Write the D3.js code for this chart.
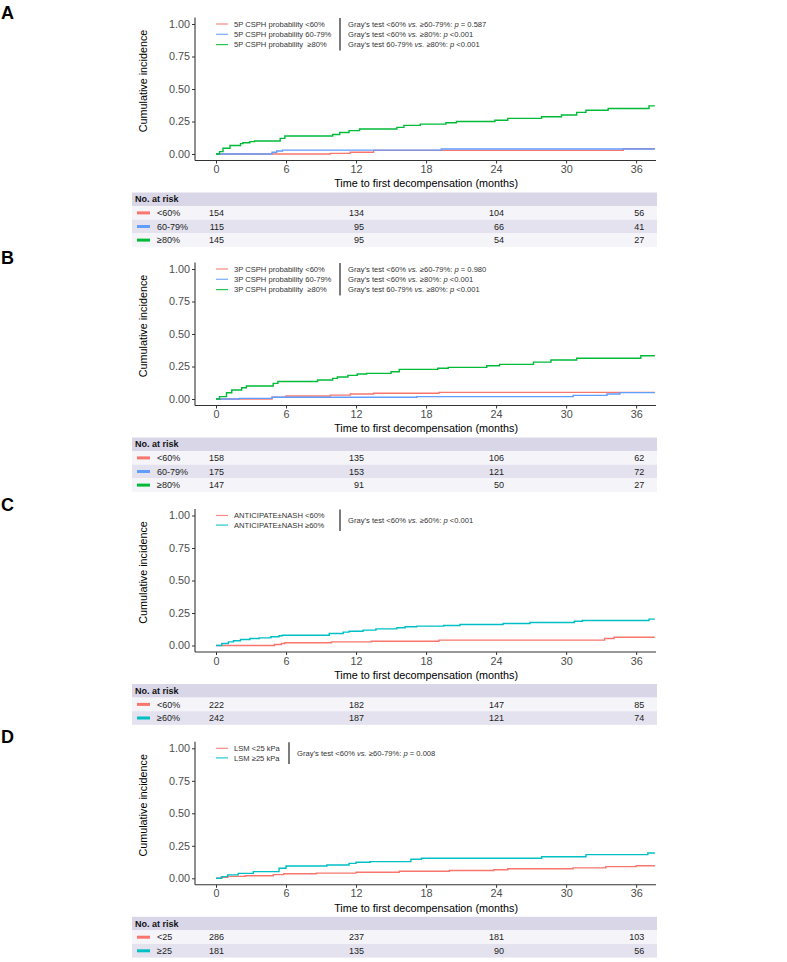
<!DOCTYPE html>
<html>
<head>
<meta charset="utf-8">
<script src="https://cdn.jsdelivr.net/npm/d3@7"></script>
<style>
  body { margin: 0; background: #fff; }
  svg { font-family: "Liberation Sans", Arial, sans-serif; }
  text { white-space: pre; }
</style>
</head>
<body>
<svg id="chart" width="787" height="962"></svg>
<script>
// ---- data: [month, cumulative incidence] step points ----
const A_LT60 = [[0,0],[9.8,0.005],[11.5,0.013],[13.5,0.028],[34.9,0.04],[37.6,0.04]];
const A_6079 = [[0,0],[4.8,0.013],[5.2,0.023],[5.7,0.03],[19.3,0.038],[37.6,0.038]];
const A_GE80 = [[0,0],[0.3,0.018],[0.6,0.044],[1.2,0.065],[2.1,0.08],[2.3,0.087],[2.9,0.095],[3.3,0.10],
  [5.5,0.12],[5.9,0.138],[10.0,0.15],[10.6,0.165],[11.4,0.18],[12.3,0.192],[15.5,0.205],[16.1,0.22],
  [17.5,0.23],[19.7,0.24],[20.6,0.25],[23.9,0.26],[25.0,0.274],[27.9,0.287],[29.6,0.30],[30.9,0.32],
  [31.7,0.336],[33.6,0.35],[37.1,0.37],[37.6,0.37]];

const B_LT60 = [[0,0],[4.8,0.013],[6.0,0.023],[9.8,0.03],[11.5,0.038],[13.5,0.044],[19.1,0.051],[37.6,0.051]];
const B_6079 = [[0,0],[2.0,0.005],[4.8,0.013],[17.2,0.018],[30.6,0.028],[33.5,0.038],[34.6,0.049],[37.6,0.049]];
const B_GE80 = [[0,0],[0.3,0.018],[0.9,0.048],[1.35,0.069],[2.2,0.087],[2.6,0.10],[4.9,0.12],[5.3,0.135],
  [8.7,0.146],[10.0,0.159],[10.4,0.169],[11.3,0.182],[12.1,0.192],[12.9,0.197],[15.0,0.21],[15.7,0.228],
  [19.0,0.236],[19.9,0.243],[23.2,0.256],[24.3,0.266],[27.2,0.284],[28.7,0.30],[30.9,0.313],[36.4,0.333],[37.6,0.333]];

const C_LT60 = [[0,0],[5.0,0.008],[5.6,0.015],[5.9,0.021],[9.9,0.028],[13.3,0.033],[19.1,0.041],[33.3,0.054],[34.1,0.064],[37.6,0.064]];
const C_GE60 = [[0,0],[0.5,0.015],[1.06,0.028],[1.5,0.036],[2.1,0.046],[2.9,0.054],[3.7,0.059],[4.7,0.067],
  [5.4,0.075],[5.7,0.079],[9.7,0.092],[10.9,0.103],[11.4,0.11],[12.6,0.118],[13.7,0.128],[15.5,0.136],
  [16.2,0.144],[17.2,0.149],[19.5,0.154],[20.9,0.162],[24.6,0.169],[26.9,0.177],[30.7,0.187],[31.4,0.192],[37.1,0.203],[37.6,0.203]];

const D_LT25 = [[0,0],[0.4,0.008],[1.0,0.015],[2.5,0.02],[4.9,0.028],[5.8,0.035],[8.6,0.04],[12.0,0.046],
  [15.7,0.054],[20.0,0.06],[23.8,0.066],[25.0,0.073],[30.6,0.08],[33.4,0.09],[36.0,0.097],[37.6,0.097]];
const D_GE25 = [[0,0],[0.5,0.013],[1.0,0.026],[1.9,0.038],[3.2,0.051],[5.4,0.077],[6.0,0.095],[9.5,0.102],
  [11.4,0.115],[12.0,0.123],[13.2,0.128],[16.7,0.146],[17.6,0.154],[27.9,0.166],[31.7,0.182],[37.0,0.195],[37.6,0.195]];

// number at risk at 0, 12, 24, 36 months
const RISK_TIMES = [0, 12, 24, 36];
const A_RISK = [[154,134,104,56],[115,95,66,41],[145,95,54,27]];
const B_RISK = [[158,135,106,62],[175,153,121,72],[147,91,50,27]];
const C_RISK = [[222,182,147,85],[242,187,121,74]];
const D_RISK = [[286,237,181,103],[181,135,90,56]];

const X_TICKS = [0, 6, 12, 18, 24, 30, 36];
const Y_TICKS = [0, 0.25, 0.5, 0.75, 1];

const RED = '#F8766D', BLUE = '#619CFF', GREEN = '#00BA38', CYAN = '#00BFC4';

const panels = [
  { letter: 'A', y0: 154, sepX: 340,
    series: [A_LT60, A_6079, A_GE80], colors: [RED, BLUE, GREEN],
    legend: ['5P CSPH probability <60%', '5P CSPH probability 60-79%', '5P CSPH probability  \u226580%'],
    tests: [['Gray\u2019s test <60% ', '\u226560-79%: ', ' = 0.587'], ['Gray\u2019s test <60% ', '\u226580%: ', ' <0.001'], ['Gray\u2019s test 60-79% ', '\u226580%: ', ' <0.001']],
    rows: ['<60%', '60-79%', '\u226580%'], risk: A_RISK },
  { letter: 'B', y0: 399, sepX: 340,
    series: [B_LT60, B_6079, B_GE80], colors: [RED, BLUE, GREEN],
    legend: ['3P CSPH probability <60%', '3P CSPH probability 60-79%', '3P CSPH probability  \u226580%'],
    tests: [['Gray\u2019s test <60% ', '\u226560-79%: ', ' = 0.980'], ['Gray\u2019s test <60% ', '\u226580%: ', ' <0.001'], ['Gray\u2019s test 60-79% ', '\u226580%: ', ' <0.001']],
    rows: ['<60%', '60-79%', '\u226580%'], risk: B_RISK },
  { letter: 'C', y0: 645.5, sepX: 340,
    series: [C_LT60, C_GE60], colors: [RED, CYAN],
    legend: ['ANTICIPATE\u00b1NASH <60%', 'ANTICIPATE\u00b1NASH \u226560%'],
    tests: [['Gray\u2019s test <60% ', '\u226560%: ', ' <0.001']],
    rows: ['<60%', '\u226560%'], risk: C_RISK },
  { letter: 'D', y0: 878.3, sepX: 289,
    series: [D_LT25, D_GE25], colors: [RED, CYAN],
    legend: ['LSM <25 kPa', 'LSM \u226525 kPa'],
    tests: [['Gray\u2019s test <60% ', '\u226560-79%: ', ' = 0.008']],
    rows: ['<25', '\u226525'], risk: D_RISK }
];

const svg = d3.select('#chart');
const x = d3.scaleLinear().domain([-1.8, 37.7]).range([195, 656]);
const PLOT_H = 130;

panels.forEach(p => {
  const y = d3.scaleLinear().domain([0, 1]).range([p.y0, p.y0 - PLOT_H]);
  const g = svg.append('g');
  const axisY = p.y0 + 6.5;

  // panel letter
  g.append('text').attr('x', 1).attr('y', p.y0 - 135)
    .attr('font-size', '18px').attr('font-weight', 'bold').attr('fill', '#000')
    .text(p.letter);

  // y axis
  const ya = g.append('g').attr('transform', `translate(${x.range()[0]},0)`)
    .call(d3.axisLeft(y).tickValues(Y_TICKS).tickFormat(d3.format('.2f')).tickSize(3).tickPadding(2));
  ya.select('.domain').attr('d', `M0,${p.y0 - PLOT_H - 6.5}V${axisY}`);
  // x axis
  const xa = g.append('g').attr('transform', `translate(0,${axisY})`)
    .call(d3.axisBottom(x).tickValues(X_TICKS).tickSize(3).tickPadding(2));
  xa.select('.domain').attr('d', `M${x.range()[0]},0H${x.range()[1]}`);
  [ya, xa].forEach(a => {
    a.selectAll('.domain').attr('stroke', '#333').attr('stroke-width', 1.1);
    a.selectAll('.tick line').attr('stroke', '#333');
    a.selectAll('.tick text').attr('font-size', '10.8px').attr('fill', '#4d4d4d')
      .attr('font-family', '"Liberation Sans", Arial, sans-serif');
  });

  g.append('text').attr('transform', `translate(147,${p.y0 - 73}) rotate(-90)`)
    .attr('text-anchor', 'middle').attr('font-size', '10.8px').attr('fill', '#000')
    .text('Cumulative incidence');
  g.append('text').attr('x', x(18)).attr('y', axisY + 23).attr('dy', '0.35em')
    .attr('text-anchor', 'middle').attr('font-size', '10.8px').attr('fill', '#000')
    .text('Time to first decompensation (months)');

  // curves
  const line = d3.line().x(d => x(d[0])).y(d => y(d[1])).curve(d3.curveStepAfter);
  p.series.forEach((s, i) => {
    g.append('path').datum(s).attr('d', line)
      .attr('fill', 'none').attr('stroke', p.colors[i]).attr('stroke-width', 1.4);
  });

  // legend
  const n = p.legend.length;
  const lh = n === 3 ? 10.3 : 9.6;
  const ly0 = p.y0 - 130;
  p.legend.forEach((t, i) => {
    const yy = ly0 + i * lh;
    g.append('line').attr('x1', 216).attr('x2', 228).attr('y1', yy).attr('y2', yy)
      .attr('stroke', p.colors[i]).attr('stroke-width', 1.2).attr('opacity', 0.85);
    g.append('text').attr('x', 234).attr('y', yy).attr('dy', '0.35em')
      .attr('font-size', '7.6px').attr('fill', '#333').text(t);
  });
  const sepTop = ly0 - 6, sepBot = ly0 + (n - 1) * lh + 6;
  g.append('line').attr('x1', p.sepX).attr('x2', p.sepX).attr('y1', sepTop).attr('y2', sepBot)
    .attr('stroke', '#444').attr('stroke-width', 1.4);
  const tStart = p.tests.length === 1 ? ly0 + (n - 1) * lh / 2 : ly0;
  p.tests.forEach((t, i) => {
    const tx = g.append('text').attr('x', p.sepX + 8).attr('y', tStart + i * lh).attr('dy', '0.35em')
      .attr('font-size', '7.6px').attr('fill', '#333');
    tx.append('tspan').text(t[0]);
    tx.append('tspan').attr('font-style', 'italic').text('vs.');
    tx.append('tspan').text(' ' + t[1]);
    tx.append('tspan').attr('font-style', 'italic').text('p');
    tx.append('tspan').text(t[2]);
  });

  // risk table
  const tTop = p.y0 + 38.5, rowH = 13.6, tLeft = 132, tRight = 657;
  g.append('rect').attr('x', tLeft).attr('y', tTop).attr('width', tRight - tLeft).attr('height', rowH)
    .attr('fill', '#d9d6e8');
  g.append('text').attr('x', 135).attr('y', tTop + rowH / 2).attr('dy', '0.35em')
    .attr('font-size', '9px').attr('font-weight', 'bold').attr('fill', '#111').text('No. at risk');
  p.rows.forEach((r, i) => {
    const ry = tTop + rowH * (i + 1);
    g.append('rect').attr('x', tLeft).attr('y', ry).attr('width', tRight - tLeft).attr('height', rowH)
      .attr('fill', i % 2 === 0 ? '#f5f4f9' : '#e4e2ef');
    g.append('line').attr('x1', 137).attr('x2', 150).attr('y1', ry + rowH / 2).attr('y2', ry + rowH / 2)
      .attr('stroke', p.colors[i]).attr('stroke-width', 3);
    g.append('text').attr('x', 157).attr('y', ry + rowH / 2).attr('dy', '0.35em')
      .attr('font-size', '9px').attr('fill', '#222').text(r);
    p.risk[i].forEach((v, j) => {
      g.append('text').attr('x', x(RISK_TIMES[j]) + 8).attr('y', ry + rowH / 2).attr('dy', '0.35em')
        .attr('text-anchor', 'end').attr('font-size', '9px').attr('fill', '#222').text(v);
    });
  });
});
</script>
</body>
</html>
